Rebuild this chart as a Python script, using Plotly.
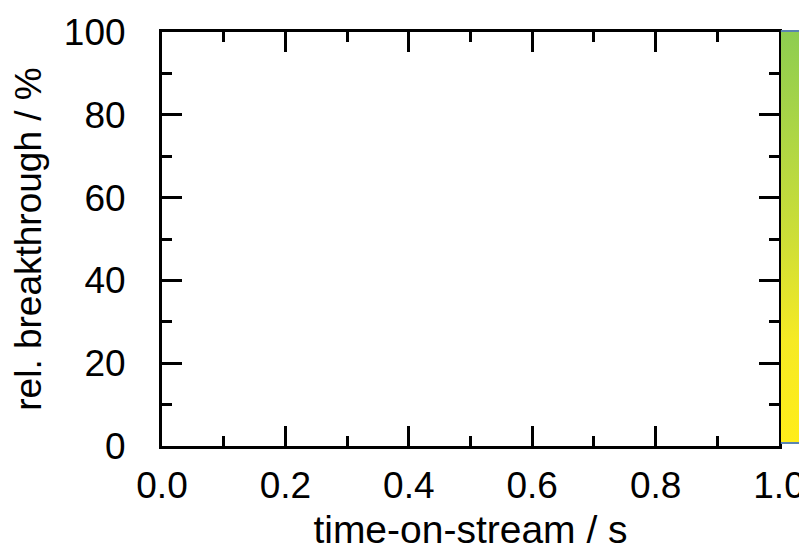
import plotly.graph_objects as go

# Axis extents and tick spacing
x_range = [0.0, 1.0]
y_range = [0, 100]
x_major_step = 0.2
x_minor_step = 0.1
y_major_step = 20
y_minor_step = 10

# Colour scale of the side bar (bottom -> top)
bar_stops = [0.0, 0.25, 0.5, 0.75, 1.0]
bar_colors = ["#FFED1A", "#F6EA24", "#CDDE37", "#ADD645", "#8ECD50"]
bar_limits = [0.0, 1.0]

FONT = "Liberation Sans, Arial, sans-serif"
TICK_FS = 37
XTITLE_FS = 39
YTITLE_FS = 37

fig = go.Figure()

# Empty trace that only carries the colour bar
fig.add_trace(go.Scatter(
    x=[None], y=[None], mode="markers", showlegend=False, hoverinfo="skip",
    marker=dict(
        color=[bar_limits[0]], cmin=bar_limits[0], cmax=bar_limits[1],
        colorscale=[[s, c] for s, c in zip(bar_stops, bar_colors)],
        showscale=True,
        colorbar=dict(
            x=1.003, xanchor="left", xpad=0,
            y=1.0, yanchor="top", ypad=0,
            lenmode="pixels", len=410,
            thickness=40, outlinewidth=0,
            showticklabels=False, ticks="",
        ),
    ),
))

axis_common = dict(
    showline=True, linecolor="black", linewidth=3, mirror="ticks",
    ticks="inside", ticklen=20, tickwidth=3, tickcolor="black",
    showgrid=False, zeroline=False,
    tickfont=dict(family=FONT, size=TICK_FS, color="black"),
    ticklabeloverflow="allow",
)

fig.update_xaxes(
    range=x_range, dtick=x_major_step, tick0=0, tickformat=".1f",
    minor=dict(dtick=x_minor_step, ticks="inside", ticklen=10, tickwidth=3, tickcolor="black"),
    title=dict(text="time-on-stream / s", font=dict(family=FONT, size=XTITLE_FS, color="black"), standoff=16),
    ticklabelstandoff=5,
    **axis_common,
)
fig.update_yaxes(
    range=y_range, dtick=y_major_step, tick0=0,
    minor=dict(dtick=y_minor_step, ticks="inside", ticklen=10, tickwidth=3, tickcolor="black"),
    title=dict(text="rel. breakthrough / %", font=dict(family=FONT, size=YTITLE_FS, color="black"), standoff=11),
    ticklabelstandoff=26,
    **axis_common,
)

# Thin edges above and below the colour bar
for yp in (1.0024, 0.0072):
    fig.add_shape(type="line", xref="paper", yref="paper",
                  x0=1.003, x1=1.2, y0=yp, y1=yp,
                  line=dict(color="#5B84B1", width=2))

fig.update_layout(
    width=799, height=551,
    margin=dict(l=162, r=20, t=32, b=105, autoexpand=False),
    paper_bgcolor="white", plot_bgcolor="white",
    font=dict(family=FONT, size=TICK_FS, color="black"),
)

fig.write_html("out.html")
